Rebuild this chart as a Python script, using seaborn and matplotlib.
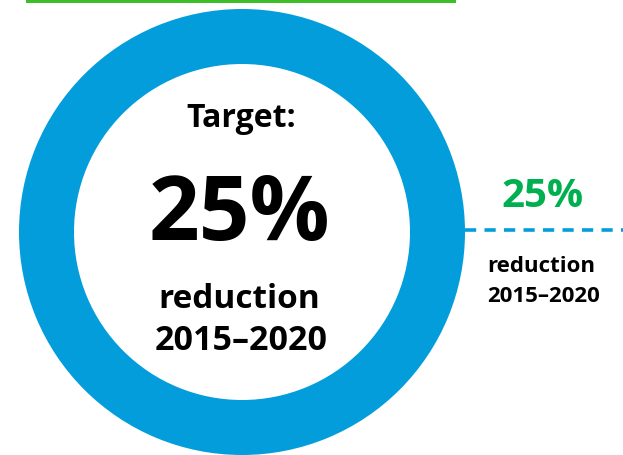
import matplotlib
matplotlib.use("Agg")
import matplotlib.pyplot as plt
import seaborn as sns
import pandas as pd

# Figures shown in the graphic
ring_values = [100]          # full ring around the target
target_label = "Target:"
reduction_pct = [25]         # target reduction, percent
period_label = "2015–2020"
reduction_word = "reduction"

BLUE = "#039DDC"
GREEN_TEXT = "#00B050"
GREEN_RULE = "#3CBE28"

sns.set_theme(style="white")
plt.rcParams["font.family"] = ["Open Sans", "DejaVu Sans"]

W, H = 623, 455
fig = plt.figure(figsize=(W / 100, H / 100), dpi=100)
ax = fig.add_axes([0, 0, 1, 1])

# Donut ring
ax.pie(ring_values, colors=[BLUE], radius=223, center=(242, 232),
       startangle=90, counterclock=False, frame=True,
       wedgeprops=dict(width=55, linewidth=0))

# Dashed leader from the ring to the side label
leader = pd.DataFrame({"x": [465, W], "y": [230, 230]})
sns.lineplot(data=leader, x="x", y="y", color=BLUE, linewidth=2.6,
             linestyle=(0, (3.1, 2.3)), ax=ax, legend=False)

# Green rule at the top edge
rule = pd.DataFrame({"x": [26, 456], "y": [0, 0]})
sns.lineplot(data=rule, x="x", y="y", color=GREEN_RULE, linewidth=4.3,
             solid_capstyle="butt", ax=ax, legend=False)

ax.set_xlim(0, W)
ax.set_ylim(H, 0)
ax.set_aspect("equal")
ax.axis("off")

pct_text = f"{reduction_pct[0]}%"

# Centre text
ax.text(241, 127, target_label, ha="center", va="baseline",
        fontsize=23, fontweight="bold", color="black")
ax.text(239, 240, pct_text, ha="center", va="baseline",
        fontsize=64, fontweight="bold", color="black")
ax.text(239, 308, reduction_word, ha="center", va="baseline",
        fontsize=24, fontweight="bold", color="black")
ax.text(241, 350, period_label, ha="center", va="baseline",
        fontsize=24.5, fontweight="bold", color="black")

# Side label
ax.text(543, 207, pct_text, ha="center", va="baseline",
        fontsize=29, fontweight="bold", color=GREEN_TEXT)
ax.text(487, 272, reduction_word, ha="left", va="baseline",
        fontsize=16, fontweight="bold", color="black")
ax.text(487, 302, period_label, ha="left", va="baseline",
        fontsize=16, fontweight="bold", color="black")

fig.savefig("out.png", dpi=100, facecolor="white")
